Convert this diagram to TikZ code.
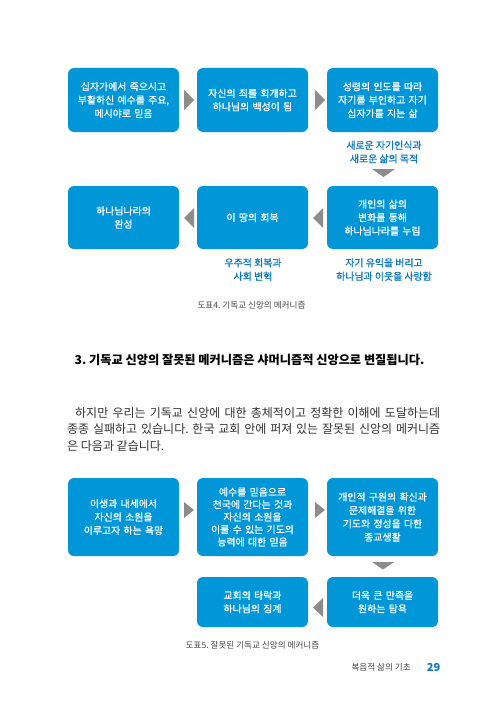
\documentclass[tikz,border=0pt]{standalone}
\usepackage{fontspec}
\setmainfont{Noto Sans CJK KR}
\newfontfamily\medf[FakeBold=0.9]{Noto Sans CJK KR}
\frenchspacing
\definecolor{boxblue}{RGB}{0,150,215}
\definecolor{lblblue}{RGB}{10,120,190}
\definecolor{arrgray}{RGB}{140,140,140}
\definecolor{txtgray}{RGB}{50,50,50}
\definecolor{capgray}{RGB}{70,70,70}
\begin{document}
\begin{tikzpicture}[x=1pt,y=-1pt,
  box/.style={fill=boxblue, rounded corners=6pt, text=white, align=center, inner sep=0pt,
    font=\medf\fontsize{9.9}{13.4}\selectfont, minimum width=111pt, text width=110pt},
  lbl/.style={text=lblblue, align=center, inner sep=0pt, font=\medf\fontsize{9.9}{13.5}\selectfont},
  arr/.style={fill=arrgray},
  captxt/.style={text=capgray, inner sep=0pt, font=\fontsize{8.6}{10}\selectfont},
  para/.style={text=txtgray, inner sep=0pt, anchor=base west, font=\fontsize{12}{13}\selectfont}]
\useasboundingbox (0,0) rectangle (500,709);
\fill[white] (0,0) rectangle (500,709);

% Row 1
\node[box, minimum height=64pt] (a1) at (123.5,100) {십자가에서 죽으시고\\부활하신 예수를 주요,\\메시야로 믿음};
\node[box, minimum height=64pt] (a2) at (252.5,100) {자신의 죄를 회개하고\\하나님의 백성이 됨};
\node[box, minimum height=64pt] (a3) at (382.5,100) {성령의 인도를 따라\\자기를 부인하고 자기\\십자가를 지는 삶};
\fill[arr] (184,90) -- (194,100) -- (184,110) -- cycle;
\fill[arr] (315,90) -- (325,100) -- (315,110) -- cycle;
\node[lbl] (l1) at (384,152) {새로운 자기인식과\\새로운 삶의 목적};
\fill[arr] (372,169) -- (395,169) -- (383.5,177) -- cycle;

% Row 2
\node[box, minimum height=63pt] (b3) at (382.5,217.5) {개인의 삶의\\변화를 통해\\하나님나라를 누림};
\node[box, minimum height=63pt] (b2) at (252.5,217.5) {이 땅의 회복};
\node[box, minimum height=63pt] (b1) at (123.5,217.5) {하나님나라의\\완성};
\fill[arr] (313,218) -- (323,208) -- (323,228) -- cycle;
\fill[arr] (184,218) -- (194,208) -- (194,228) -- cycle;
\node[lbl] (l2) at (253,269.5) {우주적 회복과\\사회 변혁};
\node[lbl] (l3) at (384,269.5) {자기 유익을 버리고\\하나님과 이웃을 사랑함};
\node[captxt] (c4) at (251.5,305) {도표4. 기독교 신앙의 메커니즘};

% Heading and paragraph
\node[inner sep=0pt, font=\bfseries\fontsize{12.2}{14}\selectfont] (h) at (249.5,360) {3. 기독교 신앙의 잘못된 메커니즘은 샤머니즘적 신앙으로 변질됩니다.};
\node[para] (p1) at (75,417) {\makebox[365pt][s]{하지만 우리는 기독교 신앙에 대한 총체적이고 정확한 이해에 도달하는데}};
\node[para] (p2) at (67,433.5) {\makebox[373pt][s]{종종 실패하고 있습니다. 한국 교회 안에 퍼져 있는 잘못된 신앙의 메커니즘}};
\node[para] (p3) at (67,450) {은 다음과 같습니다.};

% Row 3
\node[box, minimum height=78pt] (d1) at (123.5,517) {이생과 내세에서\\자신의 소원을\\이루고자 하는 욕망};
\node[box, minimum height=78pt, font=\medf\fontsize{9.9}{12.5}\selectfont] (d2) at (252.5,517) {예수를 믿음으로\\천국에 간다는 것과\\자신의 소원을\\이룰 수 있는 기도의\\능력에 대한 믿음};
\node[box, minimum height=78pt] (d3) at (382.5,517) {개인적 구원의 확신과\\문제해결을 위한\\기도와 정성을 다한\\종교생활};
\fill[arr] (184,502) -- (194,510) -- (184,518) -- cycle;
\fill[arr] (315,502) -- (325,510) -- (315,518) -- cycle;
\fill[arr] (372,562) -- (394,562) -- (383,569.5) -- cycle;

% Row 4
\node[box, minimum height=50pt] (e3) at (382.5,602) {더욱 큰 만족을\\원하는 탐욕};
\node[box, minimum height=50pt] (e2) at (252.5,602) {교회의 타락과\\하나님의 징계};
\fill[arr] (313,607.5) -- (323,598) -- (323,617) -- cycle;
\node[captxt] (c5) at (252.5,645) {도표5. 잘못된 기독교 신앙의 메커니즘};

% Footer
\node[captxt, anchor=east] (f1) at (411,667) {복음적 삶의 기초};
\node[inner sep=0pt, text=lblblue, font=\bfseries\fontsize{11}{12}\selectfont] (f2) at (433.5,667) {29};
\end{tikzpicture}
\end{document}
